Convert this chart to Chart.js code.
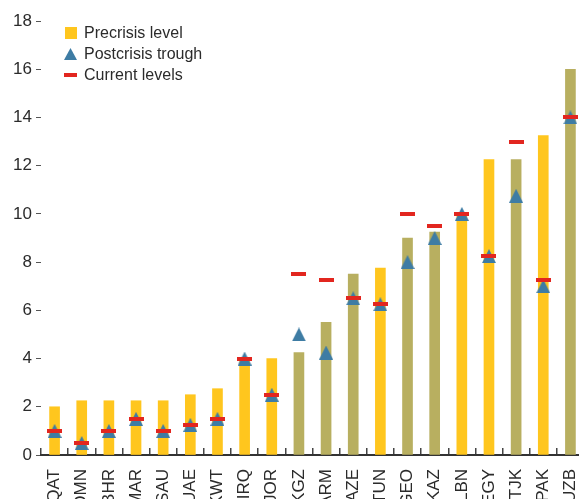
<!DOCTYPE html>
<html>
<head>
<meta charset="utf-8">
<script src="https://cdn.jsdelivr.net/npm/chart.js@4"></script>
<style>
  html, body { margin: 0; padding: 0; background: #fff; overflow: hidden; }
  #wrap { position: relative; width: 592px; height: 499px; }
  #legend { position: absolute; left: 64px; top: 22px; font: 16px "Liberation Sans", Arial, sans-serif; color: #2b2b2b; }
  #legend .row { display: flex; align-items: center; height: 21px; }
  #legend .mk { width: 13px; margin-right: 7px; display: flex; justify-content: center; }
</style>
</head>
<body>
<div id="wrap">
  <canvas id="chart"></canvas>
  <div id="legend">
    <div class="row"><span class="mk"><span style="display:block;width:12px;height:12px;background:#FFC61E"></span></span>Precrisis level</div>
    <div class="row"><span class="mk"><svg width="13" height="12"><polygon points="6.5,0 13,12 0,12" fill="#3E7CA4"/></svg></span>Postcrisis trough</div>
    <div class="row"><span class="mk"><span style="display:block;width:13px;height:4px;background:#E2261F"></span></span>Current levels</div>
  </div>
</div>
<script>
// Country codes along the x axis
const categories = ['QAT','OMN','BHR','MAR','SAU','UAE','KWT','IRQ','JOR','KGZ',
                    'ARM','AZE','TUN','GEO','KAZ','LBN','EGY','TJK','PAK','UZB'];
// Countries drawn with the olive bar colour
const oliveGroup = ['KGZ','ARM','AZE','GEO','KAZ','TJK','UZB'];

const precrisis = [2.0, 2.25, 2.25, 2.25, 2.25, 2.5, 2.75, 4.0, 4.0, 4.25,
                   5.5, 7.5, 7.75, 9.0, 9.25, 10.0, 12.25, 12.25, 13.25, 16.0];
const trough    = [1.0, 0.5, 1.0, 1.5, 1.0, 1.25, 1.5, 4.0, 2.5, 5.0,
                   4.25, 6.5, 6.25, 8.0, 9.0, 10.0, 8.25, 10.75, 7.0, 14.0];
const current   = [1.0, 0.5, 1.0, 1.5, 1.0, 1.25, 1.5, 4.0, 2.5, 7.5,
                   7.25, 6.5, 6.25, 10.0, 9.5, 10.0, 8.25, 13.0, 7.25, 14.0];

const yTicks = [0, 2, 4, 6, 8, 10, 12, 14, 16, 18];

const YELLOW = '#FFC61E', OLIVE = '#B8AF60', BLUE = '#3E7CA4', RED = '#E2261F';
const FONT = '"Liberation Sans", Arial, sans-serif';

// marker images
function triangleImg(w, h, color) {
  const c = document.createElement('canvas');
  c.width = w; c.height = h;
  const g = c.getContext('2d');
  g.fillStyle = color;
  g.beginPath();
  g.moveTo(w / 2, 0); g.lineTo(w, h); g.lineTo(0, h);
  g.closePath();
  g.fill();
  return c;
}
function dashImg(w, h, color) {
  const c = document.createElement('canvas');
  c.width = w; c.height = h;
  const g = c.getContext('2d');
  g.fillStyle = color;
  g.fillRect(0, 0, w, h);
  return c;
}

const ctx = document.getElementById('chart').getContext('2d');
new Chart(ctx, {
  type: 'bar',
  data: {
    labels: categories,
    datasets: [
      {
        type: 'line',
        label: 'Current levels',
        data: current,
        showLine: false,
        pointStyle: dashImg(15, 4, RED),
        pointRadius: 7,
        order: 1
      },
      {
        type: 'line',
        label: 'Postcrisis trough',
        data: trough,
        showLine: false,
        pointStyle: triangleImg(14, 14, BLUE),
        pointRadius: 7,
        order: 2
      },
      {
        label: 'Precrisis level',
        data: precrisis,
        backgroundColor: categories.map(c => oliveGroup.includes(c) ? OLIVE : YELLOW),
        barThickness: 10,
        order: 3
      }
    ]
  },
  options: {
    responsive: true,
    maintainAspectRatio: false,
    animation: false,
    layout: { padding: { top: 21, right: 0, left: 0, bottom: 0 } },
    plugins: { legend: { display: false }, tooltip: { enabled: false } },
    scales: {
      x: {
        offset: true,
        grid: { display: true, offset: true, drawOnChartArea: false, drawTicks: true,
                tickLength: -7, color: '#444', lineWidth: 1.5 },
        border: { display: true, color: '#333', width: 2 },
        ticks: { autoSkip: false, minRotation: 90, maxRotation: 90, padding: 21,
                 color: '#2b2b2b', font: { family: FONT, size: 17 } },
        afterFit: s => { s.height = 44; s.paddingLeft = 0; s.paddingRight = 0; }
      },
      y: {
        min: 0,
        max: 18,
        afterBuildTicks: s => { s.ticks = yTicks.map(v => ({ value: v })); },
        grid: { display: true, drawOnChartArea: false, drawTicks: true, tickLength: 5,
                color: '#555', lineWidth: 1 },
        border: { display: false },
        ticks: { padding: 4, color: '#2b2b2b', font: { family: FONT, size: 17 } },
        afterFit: s => { s.width = 41; s.paddingTop = 0; s.paddingBottom = 0; }
      }
    }
  }
});
</script>
</body>
</html>
